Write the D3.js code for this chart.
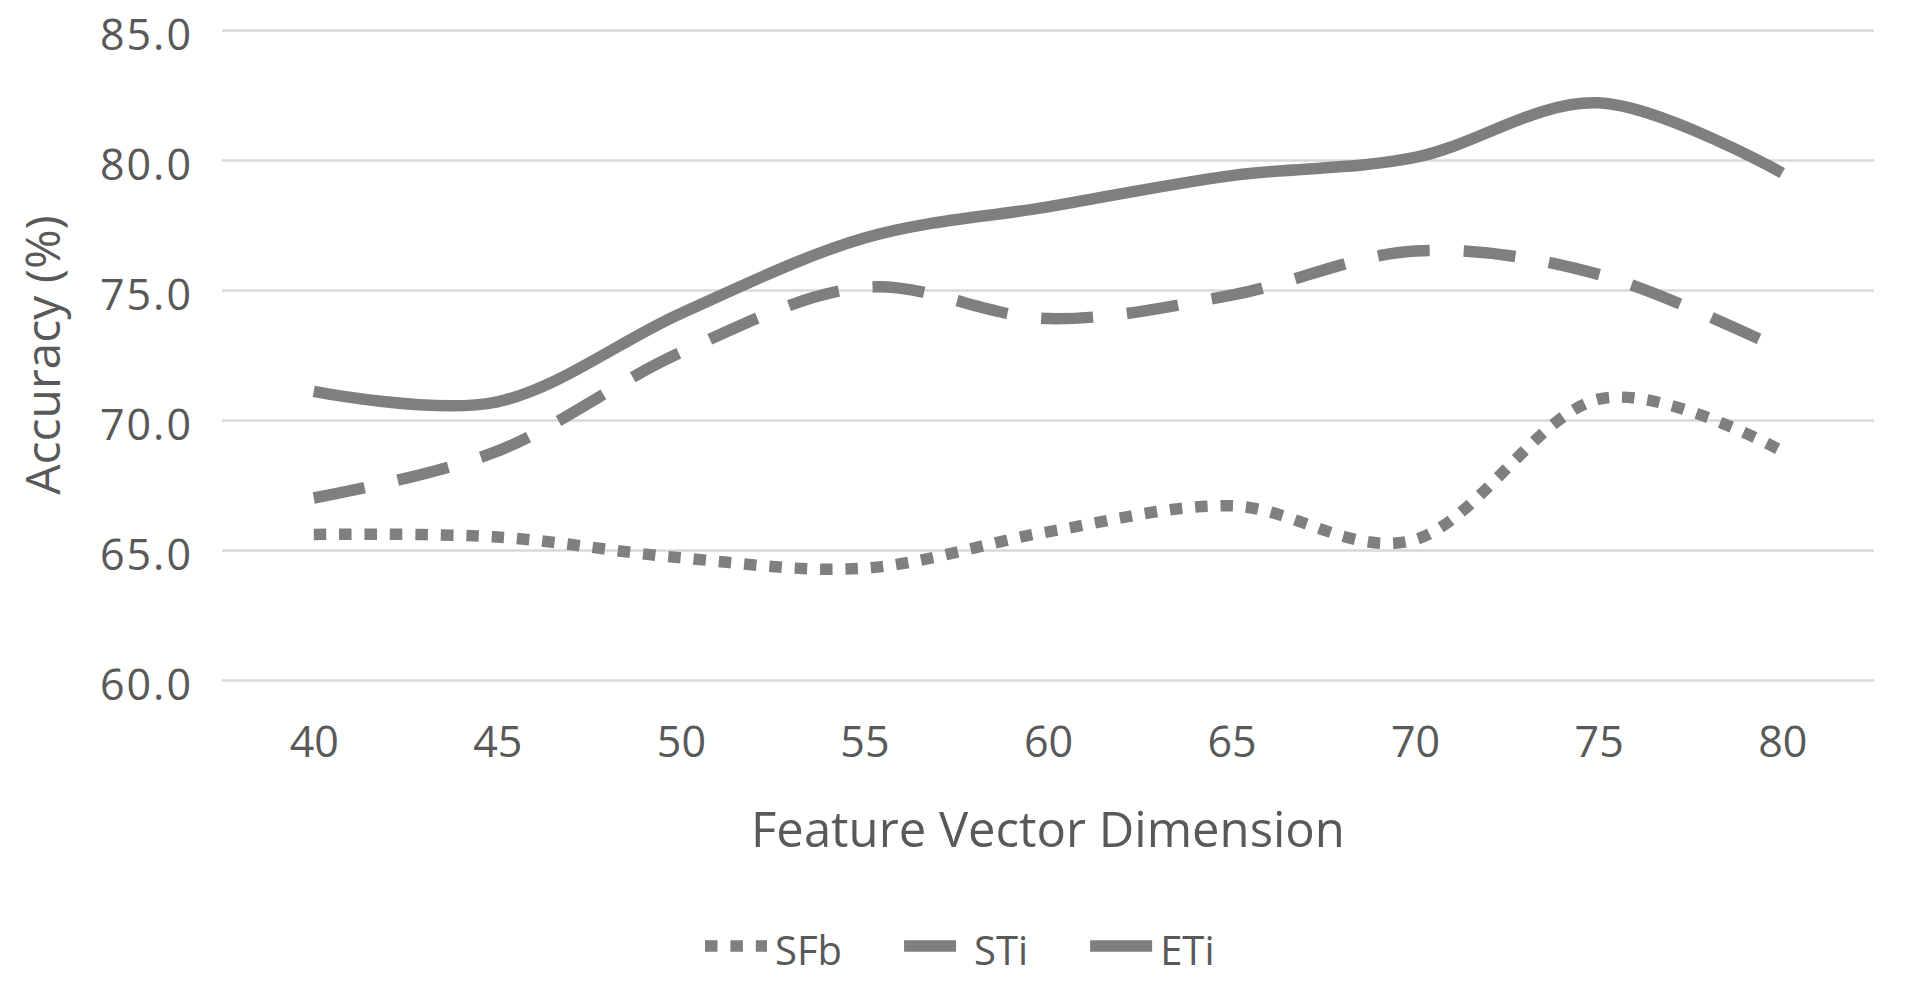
<!DOCTYPE html>
<html><head><meta charset="utf-8">
<script src="https://cdn.jsdelivr.net/npm/d3@7"></script>
<style>
body{margin:0;background:#fff}
text{font-family:"Open Sans",sans-serif;fill:#595959}
</style>
</head><body>
<svg id="chart" width="1906" height="985"></svg>
<script>
const categories = [40, 45, 50, 55, 60, 65, 70, 75, 80];
const sfbValues = [65.6, 65.5, 64.7, 64.3, 65.7, 66.7, 65.4, 70.8, 68.8];
const stiValues = [67.0, 68.8, 72.6, 75.1, 73.9, 74.8, 76.5, 75.6, 72.7];
const etiValues = [71.1, 70.7, 74.1, 77.0, 78.2, 79.4, 80.1, 82.2, 79.5];
const yTicks = [60, 65, 70, 75, 80, 85];
const seriesNames = ["SFb", "STi", "ETi"];
const seriesDash = ["12.5,12.9", "52,34", null];
const xTitle = "Feature Vector Dimension";
const yTitle = "Accuracy (%)";

(function () {
const series = seriesNames.map((n, i) => ({
  name: n,
  values: [sfbValues, stiValues, etiValues][i],
  dash: seriesDash[i]
}));

const svg = d3.select("#chart");
const pL = 222, pR = 1874, pT = 30, pB = 680;
const lineColor = "#7f7f7f";

const x = d3.scalePoint().domain(categories).range([pL, pR]).padding(0.5);
const y = d3.scaleLinear().domain([60, 85]).range([pB, pT]);

// gridlines + y labels
const yAxis = d3.axisLeft(y).tickValues(yTicks).tickSize(-(pR - pL)).tickFormat(d3.format(".1f")).tickPadding(29);
const gy = svg.append("g").attr("transform", `translate(${pL},0)`).call(yAxis);
gy.select(".domain").remove();
gy.selectAll(".tick line").attr("stroke", "#d9d9d9").attr("stroke-width", 2.5);
gy.selectAll(".tick text").attr("font-size", 43).attr("letter-spacing", 2).attr("dy", "0.72em").attr("y", -11).attr("fill", "#595959");

// x axis labels
const xAxis = d3.axisBottom(x).tickSize(0).tickPadding(48);
const gx = svg.append("g").attr("transform", `translate(0,${pB})`).call(xAxis);
gx.select(".domain").remove();
gx.selectAll(".tick text").attr("font-size", 43).attr("dy", "0").attr("y", 77).attr("fill", "#595959");

// lines
const line = d3.line()
  .x((d, i) => x(categories[i]))
  .y(d => y(d))
  .curve(d3.curveCatmullRom.alpha(0));

series.forEach(s => {
  svg.append("path")
    .attr("d", line(s.values))
    .attr("fill", "none")
    .attr("stroke", lineColor)
    .attr("stroke-width", 11.5)
    .attr("stroke-linejoin", "round")
    .attr("stroke-dasharray", s.dash);
});

// axis titles
svg.append("text")
  .attr("x", (pL + pR) / 2).attr("y", 847)
  .attr("text-anchor", "middle").attr("font-size", 49)
  .text(xTitle);
svg.append("text")
  .attr("transform", `translate(60,${(pT + pB) / 2}) rotate(-90)`)
  .attr("text-anchor", "middle").attr("font-size", 48)
  .text(yTitle);

// legend
let lx = 705;
const ly = 946;
series.forEach(s => {
  svg.append("line")
    .attr("x1", lx).attr("x2", lx + 62).attr("y1", ly).attr("y2", ly)
    .attr("stroke", lineColor).attr("stroke-width", 11.5)
    .attr("stroke-dasharray", s.dash);
  const t = svg.append("text")
    .attr("x", lx + 70).attr("y", 965)
    .attr("font-size", 40)
    .text(s.name);
  lx += 70 + t.node().getComputedTextLength() + 62;
});
})();
</script>
</body></html>
